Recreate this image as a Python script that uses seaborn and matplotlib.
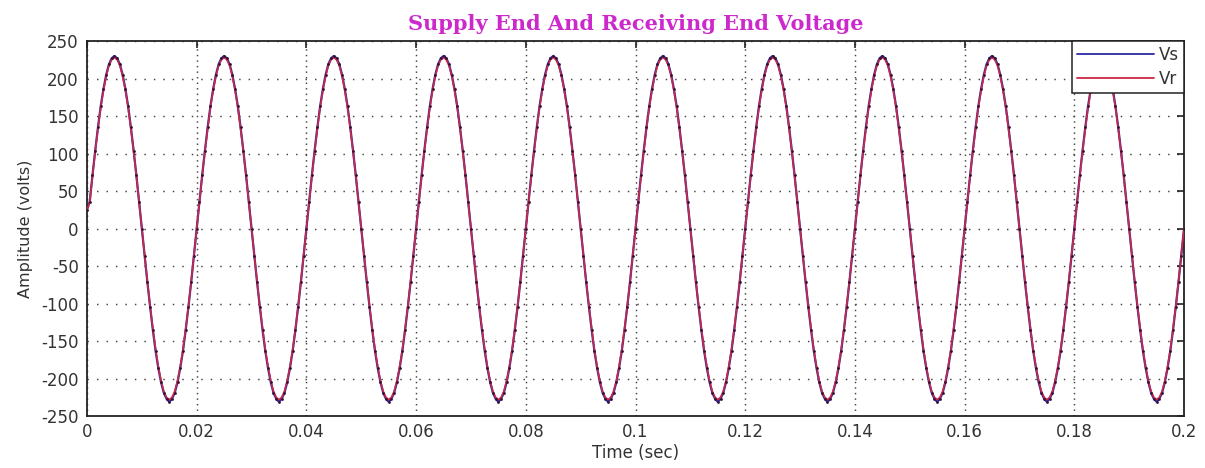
import numpy as np
import pandas as pd
import matplotlib
matplotlib.use("Agg")
import matplotlib.pyplot as plt
import seaborn as sns

# One 20 ms cycle (50 Hz) sampled every 0.5 ms, volts
vs_cycle = [0, 36, 71, 104, 135, 163, 186, 205, 219, 227,
            230, 227, 219, 205, 186, 163, 135, 104, 71, 36,
            0, -36, -71, -104, -135, -163, -186, -205, -219, -227,
            -231, -227, -219, -205, -186, -163, -135, -104, -71, -36]
vr_cycle = [0, 35, 70, 103, 133, 161, 184, 203, 217, 225,
            228, 225, 217, 203, 184, 161, 133, 103, 70, 35,
            0, -35, -70, -103, -133, -161, -184, -203, -217, -225,
            -228, -225, -217, -203, -184, -161, -133, -103, -70, -35]
n_cycles = 10
sample_step = 0.0005
start_value = 25

x_ticks = [0, 0.02, 0.04, 0.06, 0.08, 0.1, 0.12, 0.14, 0.16, 0.18, 0.2]
x_tick_labels = ["0", "0.02", "0.04", "0.06", "0.08", "0.1", "0.12", "0.14", "0.16", "0.18", "0.2"]
y_ticks = [-250, -200, -150, -100, -50, 0, 50, 100, 150, 200, 250]

vs = list(np.tile(vs_cycle, n_cycles)) + [0]
vr = list(np.tile(vr_cycle, n_cycles)) + [0]
vs[0] = start_value
vr[0] = start_value
t = np.arange(len(vs)) * sample_step

df = pd.DataFrame({"t": t, "Vs": vs, "Vr": vr})

sns.set_theme(style="white")
plt.rcParams["font.family"] = ["DejaVu Sans"]
plt.rcParams["axes.unicode_minus"] = False

fig = plt.figure(figsize=(12.05, 4.68), dpi=100)
ax = fig.add_axes([0.0722, 0.111, 0.9104, 0.8014])

sns.lineplot(data=df, x="t", y="Vs", ax=ax, color="#2a2aa8", lw=1.6, label="Vs", zorder=2)
sns.lineplot(data=df, x="t", y="Vr", ax=ax, color="#cc2844", lw=1.2, label="Vr", zorder=3)
# sample points of the supply-end signal
sns.scatterplot(data=df, x="t", y="Vs", ax=ax, color="#3a1030", s=4, linewidth=0,
                zorder=4, legend=False)

ax.set_xlim(0, 0.2)
ax.set_ylim(-250, 250)
ax.set_xticks(x_ticks)
ax.set_xticklabels(x_tick_labels)
ax.set_yticks(y_ticks)
ax.tick_params(axis="both", which="both", direction="in", length=5, width=1.2,
               colors="#222222", labelsize=12, top=True, right=True,
               labelcolor="#333333")
ax.tick_params(axis="y", pad=6)
ax.tick_params(axis="x", pad=5)
ax.yaxis.grid(True, linestyle=(0, (1, 5.5)), color="#444444", linewidth=1.05)
ax.xaxis.grid(True, linestyle=(0, (1, 2.8)), color="#444444", linewidth=1.05)
for s in ax.spines.values():
    s.set_color("#222222")
    s.set_linewidth(1.3)

ax.set_xlabel("Time (sec)", fontsize=12, color="#333333", labelpad=2)
ax.set_ylabel("Amplitude (volts)", fontsize=11.5, color="#333333", labelpad=6)
ax.set_title("Supply End And Receiving End Voltage", fontsize=15, fontweight="bold",
             color="#cc28cc", family="DejaVu Serif", pad=8)

leg = ax.legend(loc="upper right", fontsize=12, frameon=True, fancybox=False,
                borderaxespad=0, handlelength=4.6, handletextpad=0.3,
                borderpad=0.3, labelspacing=0.35)
leg.get_frame().set_edgecolor("#222222")
leg.get_frame().set_linewidth(1.1)
leg.get_frame().set_alpha(1)
for line in leg.get_lines():
    line.set_linewidth(1.3)
for txt in leg.get_texts():
    txt.set_color("#333333")

fig.savefig("out.png", dpi=100, facecolor="white")
